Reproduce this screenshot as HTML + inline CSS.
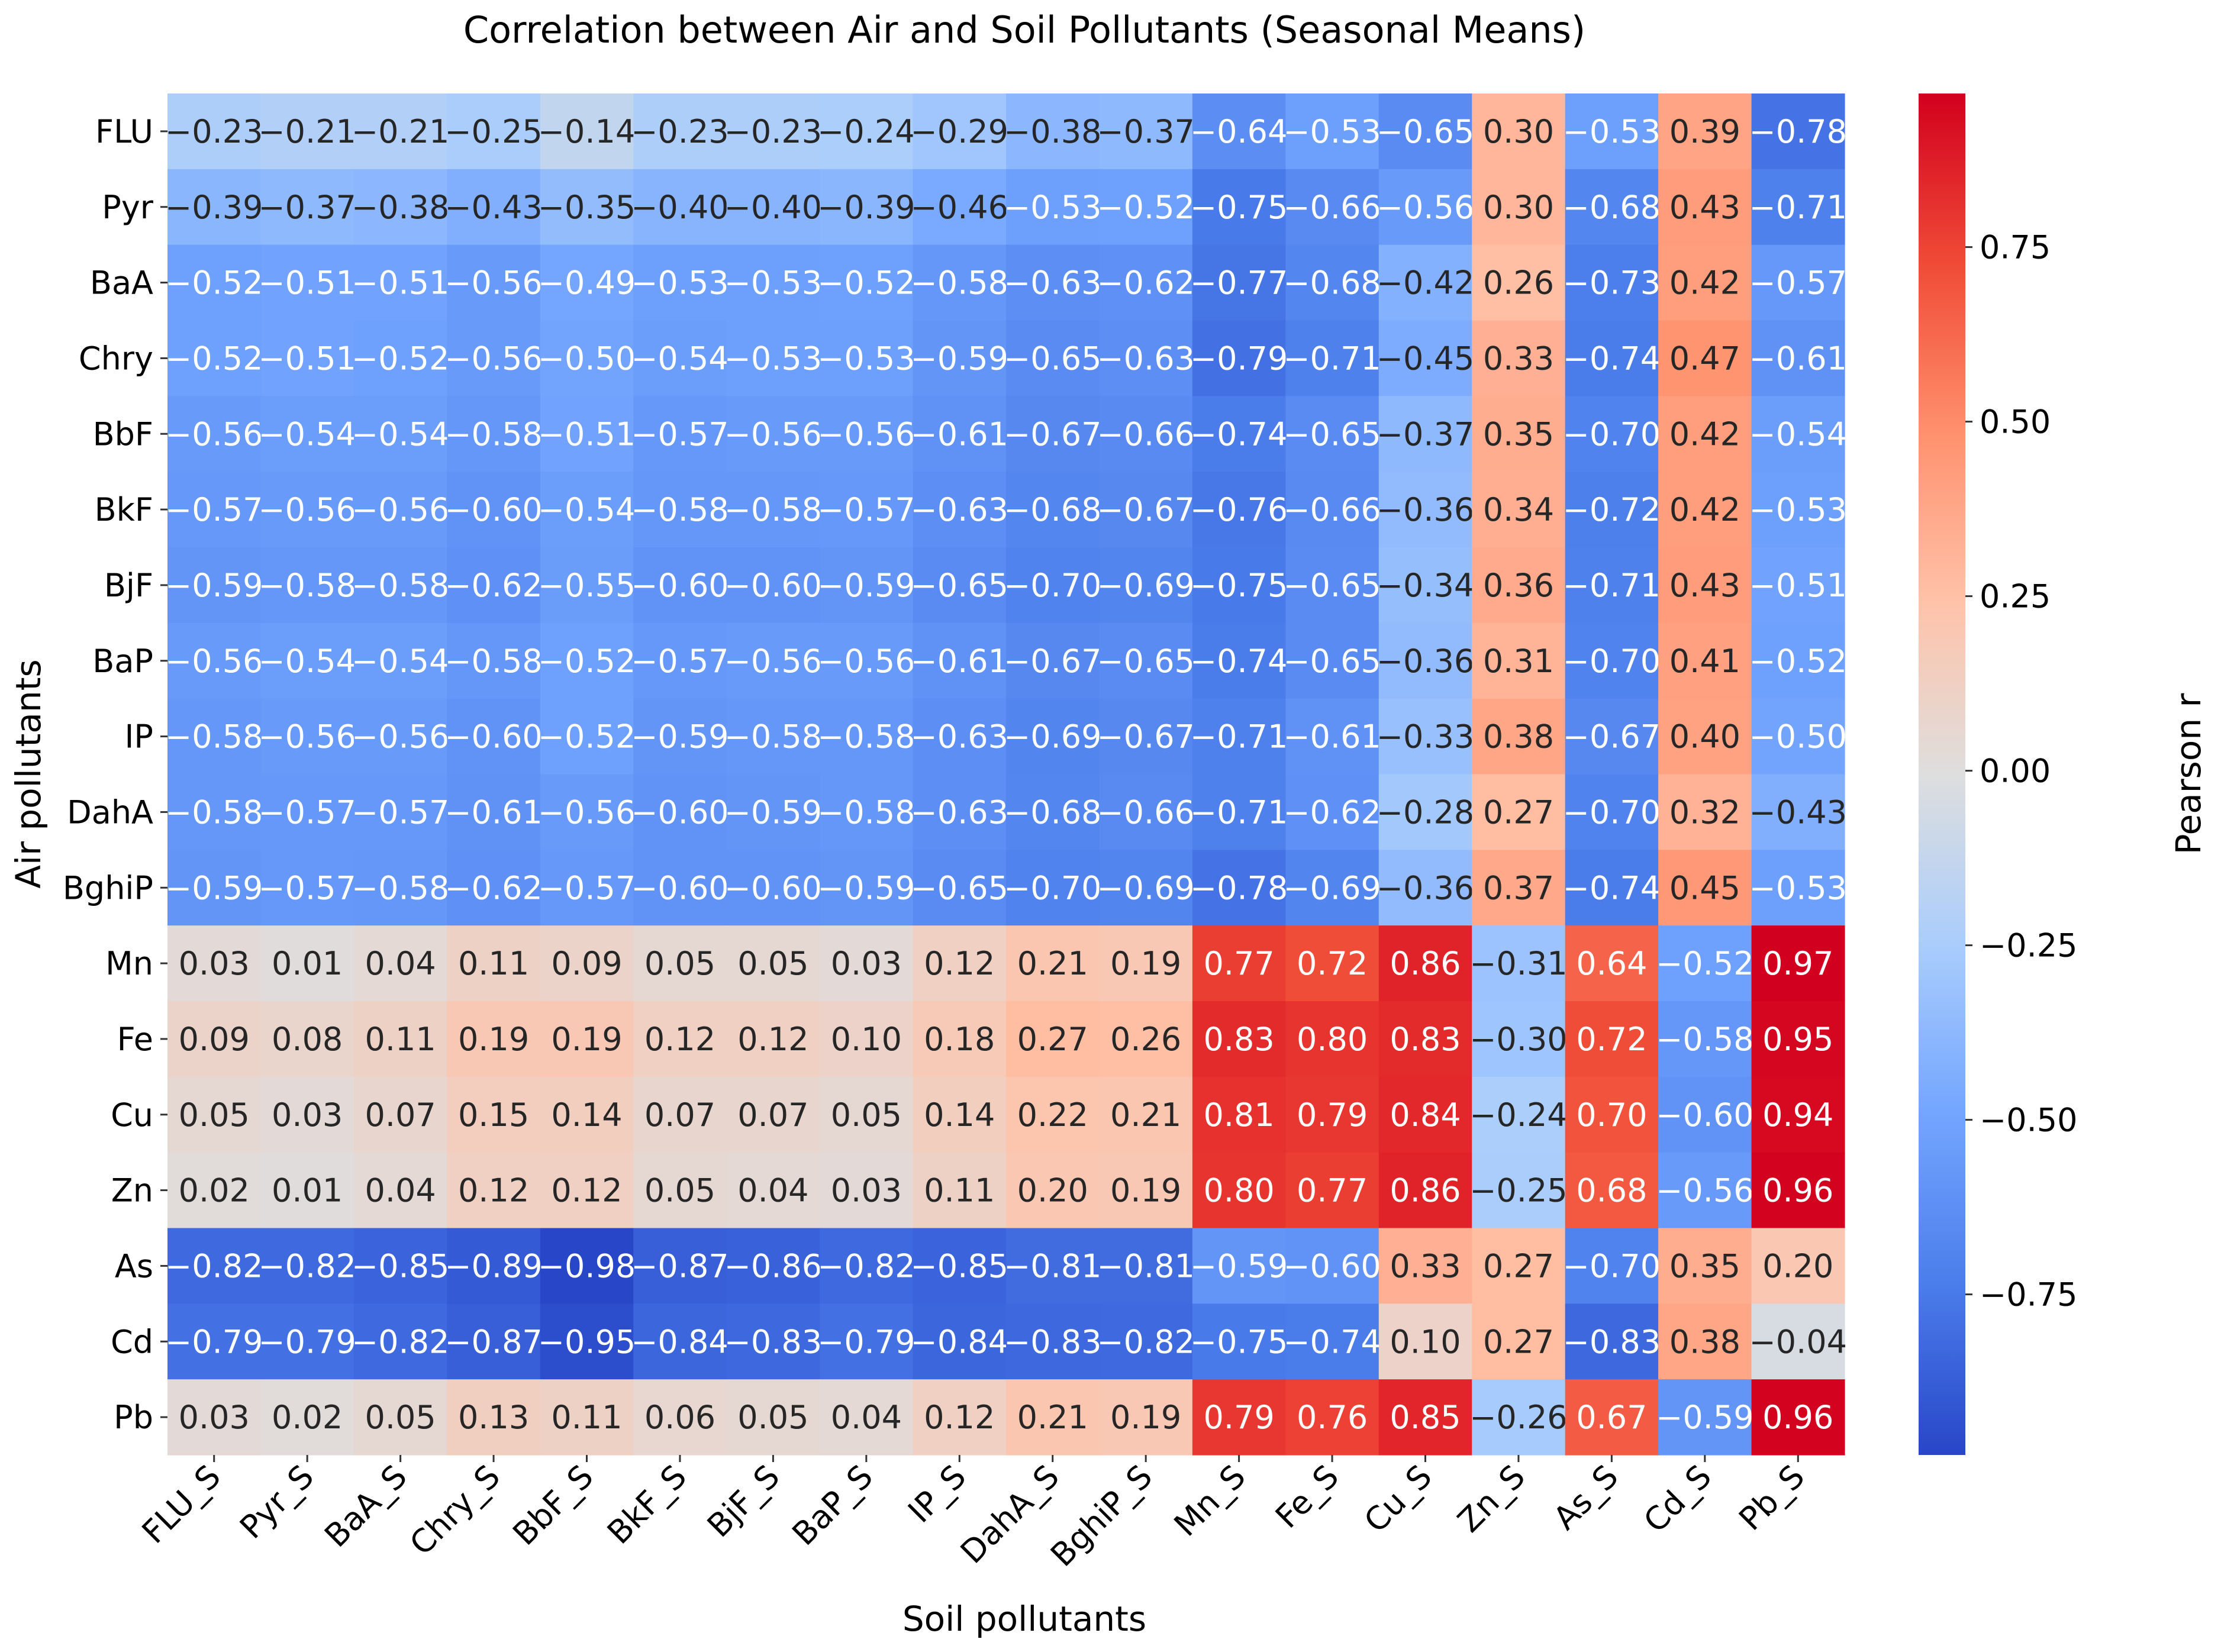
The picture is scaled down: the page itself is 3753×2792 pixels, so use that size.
<!DOCTYPE html>
<html><head><meta charset="utf-8"><style>
html,body{margin:0;padding:0;background:#fff;}
svg{display:block;font-family:"DejaVu Sans","Liberation Sans",sans-serif;}
</style></head><body>
<svg id="chart" width="3753" height="2792" viewBox="0 0 3753 2792" xmlns="http://www.w3.org/2000/svg">
<defs>
<linearGradient id="cbgrad" x1="0" y1="1" x2="0" y2="0">
<stop offset="0" stop-color="rgb(40,70,200)"/>
<stop offset="0.125" stop-color="rgb(75,125,235)"/>
<stop offset="0.25" stop-color="rgb(115,165,255)"/>
<stop offset="0.375" stop-color="rgb(170,205,252)"/>
<stop offset="0.5" stop-color="rgb(222,222,222)"/>
<stop offset="0.625" stop-color="rgb(255,195,170)"/>
<stop offset="0.75" stop-color="rgb(255,145,110)"/>
<stop offset="0.875" stop-color="rgb(240,75,55)"/>
<stop offset="1" stop-color="rgb(210,0,30)"/>
</linearGradient>
</defs>
<text x="1731" y="72" font-size="62" text-anchor="middle" fill="#000">Correlation between Air and Soil Pollutants (Seasonal Means)</text>
<g id="cells"></g>
<g id="ylabels"></g>
<g id="xlabels"></g>
<text transform="translate(68,1308) rotate(-90)" font-size="58" text-anchor="middle" fill="#000">Air pollutants</text>
<text x="1731" y="2756" font-size="58" text-anchor="middle" fill="#000">Soil pollutants</text>
<rect x="3242" y="158" width="79" height="2301" fill="url(#cbgrad)"/>
<g id="cbticks"></g>
<text transform="translate(3718,1308) rotate(-90)" font-size="58" text-anchor="middle" fill="#000">Pearson r</text>
</svg>
<script>
const rowLabels = ["FLU","Pyr","BaA","Chry","BbF","BkF","BjF","BaP","IP","DahA","BghiP","Mn","Fe","Cu","Zn","As","Cd","Pb"];
const colLabels = ["FLU_S","Pyr_S","BaA_S","Chry_S","BbF_S","BkF_S","BjF_S","BaP_S","IP_S","DahA_S","BghiP_S","Mn_S","Fe_S","Cu_S","Zn_S","As_S","Cd_S","Pb_S"];
const rowFLU = [-0.23,-0.21,-0.21,-0.25,-0.14,-0.23,-0.23,-0.24,-0.29,-0.38,-0.37,-0.64,-0.53,-0.65,0.30,-0.53,0.39,-0.78];
const rowPyr = [-0.39,-0.37,-0.38,-0.43,-0.35,-0.40,-0.40,-0.39,-0.46,-0.53,-0.52,-0.75,-0.66,-0.56,0.30,-0.68,0.43,-0.71];
const rowBaA = [-0.52,-0.51,-0.51,-0.56,-0.49,-0.53,-0.53,-0.52,-0.58,-0.63,-0.62,-0.77,-0.68,-0.42,0.26,-0.73,0.42,-0.57];
const rowChry = [-0.52,-0.51,-0.52,-0.56,-0.50,-0.54,-0.53,-0.53,-0.59,-0.65,-0.63,-0.79,-0.71,-0.45,0.33,-0.74,0.47,-0.61];
const rowBbF = [-0.56,-0.54,-0.54,-0.58,-0.51,-0.57,-0.56,-0.56,-0.61,-0.67,-0.66,-0.74,-0.65,-0.37,0.35,-0.70,0.42,-0.54];
const rowBkF = [-0.57,-0.56,-0.56,-0.60,-0.54,-0.58,-0.58,-0.57,-0.63,-0.68,-0.67,-0.76,-0.66,-0.36,0.34,-0.72,0.42,-0.53];
const rowBjF = [-0.59,-0.58,-0.58,-0.62,-0.55,-0.60,-0.60,-0.59,-0.65,-0.70,-0.69,-0.75,-0.65,-0.34,0.36,-0.71,0.43,-0.51];
const rowBaP = [-0.56,-0.54,-0.54,-0.58,-0.52,-0.57,-0.56,-0.56,-0.61,-0.67,-0.65,-0.74,-0.65,-0.36,0.31,-0.70,0.41,-0.52];
const rowIP = [-0.58,-0.56,-0.56,-0.60,-0.52,-0.59,-0.58,-0.58,-0.63,-0.69,-0.67,-0.71,-0.61,-0.33,0.38,-0.67,0.40,-0.50];
const rowDahA = [-0.58,-0.57,-0.57,-0.61,-0.56,-0.60,-0.59,-0.58,-0.63,-0.68,-0.66,-0.71,-0.62,-0.28,0.27,-0.70,0.32,-0.43];
const rowBghiP = [-0.59,-0.57,-0.58,-0.62,-0.57,-0.60,-0.60,-0.59,-0.65,-0.70,-0.69,-0.78,-0.69,-0.36,0.37,-0.74,0.45,-0.53];
const rowMn = [0.03,0.01,0.04,0.11,0.09,0.05,0.05,0.03,0.12,0.21,0.19,0.77,0.72,0.86,-0.31,0.64,-0.52,0.97];
const rowFe = [0.09,0.08,0.11,0.19,0.19,0.12,0.12,0.10,0.18,0.27,0.26,0.83,0.80,0.83,-0.30,0.72,-0.58,0.95];
const rowCu = [0.05,0.03,0.07,0.15,0.14,0.07,0.07,0.05,0.14,0.22,0.21,0.81,0.79,0.84,-0.24,0.70,-0.60,0.94];
const rowZn = [0.02,0.01,0.04,0.12,0.12,0.05,0.04,0.03,0.11,0.20,0.19,0.80,0.77,0.86,-0.25,0.68,-0.56,0.96];
const rowAs = [-0.82,-0.82,-0.85,-0.89,-0.98,-0.87,-0.86,-0.82,-0.85,-0.81,-0.81,-0.59,-0.60,0.33,0.27,-0.70,0.35,0.20];
const rowCd = [-0.79,-0.79,-0.82,-0.87,-0.95,-0.84,-0.83,-0.79,-0.84,-0.83,-0.82,-0.75,-0.74,0.10,0.27,-0.83,0.38,-0.04];
const rowPb = [0.03,0.02,0.05,0.13,0.11,0.06,0.05,0.04,0.12,0.21,0.19,0.79,0.76,0.85,-0.26,0.67,-0.59,0.96];
const cbTicks = [-0.75,-0.50,-0.25,0.00,0.25,0.50,0.75];
const vmin = -0.98, vmax = 0.97;

const matrix = [rowFLU,rowPyr,rowBaA,rowChry,rowBbF,rowBkF,rowBjF,rowBaP,rowIP,rowDahA,rowBghiP,rowMn,rowFe,rowCu,rowZn,rowAs,rowCd,rowPb];
const NS = "http://www.w3.org/2000/svg";
const L = 283, T = 158, R = 3117, B = 2459;
const cw = (R - L) / colLabels.length, ch = (B - T) / rowLabels.length;
function xPos(i){ return L + i * cw; }
function yPos(j){ return T + j * ch; }
function cbY(v){ return B - (v - vmin) / (vmax - vmin) * (B - T); }
const stops = [[40,70,200],[75,125,235],[115,165,255],[170,205,252],[222,222,222],[255,195,170],[255,145,110],[240,75,55],[210,0,30]];
function cmap(v){
  let t = (v - vmin) / (vmax - vmin); t = Math.max(0, Math.min(1, t));
  const p = t * 8, k = Math.min(7, Math.floor(p)), f = p - k;
  const a = stops[k], b = stops[k+1];
  return [0,1,2].map(i => Math.round(a[i] + (b[i]-a[i]) * f));
}
function fmt(v){ const s = Math.abs(v).toFixed(2); return (v < 0 ? "\u2212" : "") + s; }

const gc = document.getElementById("cells");
matrix.forEach((row, j) => {
  row.forEach((v, i) => {
    const c = cmap(v);
    const r = document.createElementNS(NS, "rect");
    r.setAttribute("x", xPos(i)); r.setAttribute("y", yPos(j));
    r.setAttribute("width", cw + 0.6); r.setAttribute("height", ch + 0.6);
    r.setAttribute("fill", `rgb(${c[0]},${c[1]},${c[2]})`);
    
    
    gc.appendChild(r);
    const t = document.createElementNS(NS, "text");
    t.setAttribute("x", xPos(i) + cw/2); t.setAttribute("y", yPos(j) + ch/2 + 19);
    t.setAttribute("font-size", "54"); t.setAttribute("text-anchor", "middle");
    t.setAttribute("fill", (v <= -0.47 || v >= 0.5) ? "#ffffff" : "#262626");
    t.textContent = fmt(v);
    
    
    gc.appendChild(t);
  });
});
const gy = document.getElementById("ylabels");
rowLabels.forEach((lab, j) => {
  const y = yPos(j) + ch/2;
  const tk = document.createElementNS(NS, "line");
  tk.setAttribute("x1", L - 12); tk.setAttribute("x2", L); tk.setAttribute("y1", y); tk.setAttribute("y2", y);
  tk.setAttribute("stroke", "#333"); tk.setAttribute("stroke-width", "3");
  
  
  gy.appendChild(tk);
  const t = document.createElementNS(NS, "text");
  t.setAttribute("x", L - 24); t.setAttribute("y", y + 19);
  t.setAttribute("font-size", "54"); t.setAttribute("text-anchor", "end"); t.setAttribute("fill", "#000");
  t.textContent = lab;
  
  
  gy.appendChild(t);
});
const gx = document.getElementById("xlabels");
colLabels.forEach((lab, i) => {
  const x = xPos(i) + cw/2;
  const tk = document.createElementNS(NS, "line");
  tk.setAttribute("x1", x); tk.setAttribute("x2", x); tk.setAttribute("y1", B); tk.setAttribute("y2", B + 12);
  tk.setAttribute("stroke", "#333"); tk.setAttribute("stroke-width", "3");
  
  
  gx.appendChild(tk);
  const t = document.createElementNS(NS, "text");
  t.setAttribute("transform", `translate(${x + 14},${B + 40}) rotate(-45)`);
  t.setAttribute("font-size", "54"); t.setAttribute("text-anchor", "end"); t.setAttribute("fill", "#000");
  t.textContent = lab;
  
  
  gx.appendChild(t);
});
const gcb = document.getElementById("cbticks");
cbTicks.forEach(v => {
  const y = cbY(v);
  const tk = document.createElementNS(NS, "line");
  tk.setAttribute("x1", 3321); tk.setAttribute("x2", 3333); tk.setAttribute("y1", y); tk.setAttribute("y2", y);
  tk.setAttribute("stroke", "#333"); tk.setAttribute("stroke-width", "3");
  
  
  gcb.appendChild(tk);
  const t = document.createElementNS(NS, "text");
  t.setAttribute("x", 3345); t.setAttribute("y", y + 19);
  t.setAttribute("font-size", "54"); t.setAttribute("fill", "#000");
  t.textContent = fmt(v);
  
  
  gcb.appendChild(t);
});
</script>
</body></html>
